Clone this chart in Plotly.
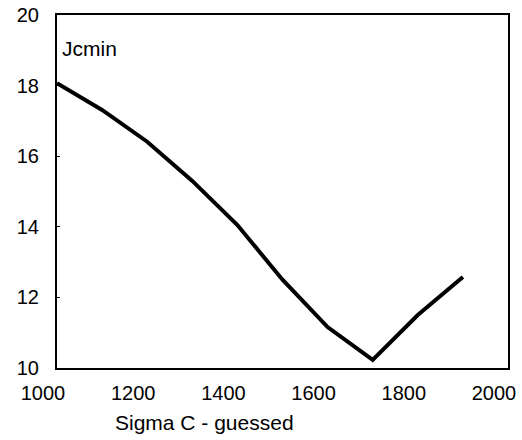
import plotly.graph_objects as go

sigma_c = [1000, 1100, 1200, 1300, 1400, 1500, 1600, 1700, 1800, 1900]
jcmin = [18.07, 17.31, 16.41, 15.3, 14.05, 12.5, 11.16, 10.23, 11.5, 12.58]
x_ticks = [1000, 1200, 1400, 1600, 1800, 2000]
y_ticks = [10, 12, 14, 16, 18, 20]

FONT = "Liberation Sans, Arial, sans-serif"

fig = go.Figure()
fig.add_trace(go.Scatter(x=sigma_c, y=jcmin, mode="lines",
                         line=dict(color="black", width=4), showlegend=False))

fig.update_layout(
    width=522, height=440,
    margin=dict(l=57, r=14, t=15, b=72, autoexpand=False),
    paper_bgcolor="white", plot_bgcolor="white",
    font=dict(family=FONT, size=20, color="black"),
    xaxis=dict(range=[1000, 2000], tickvals=x_ticks, showgrid=False, zeroline=False,
               showline=True, linecolor="black", linewidth=2, mirror=True,
               ticks="", ticklabelshift=-14, ticklabelstandoff=6, automargin=False),
    yaxis=dict(range=[10, 20], tickvals=y_ticks, showgrid=False, zeroline=False,
               showline=True, linecolor="black", linewidth=2, mirror=True,
               ticks="inside", ticklen=3, tickcolor="black", ticklabelstandoff=12,
               automargin=False),
    annotations=[
        dict(text="Jcmin", x=0.006, y=0.906, xref="paper", yref="paper",
             xanchor="left", yanchor="middle", showarrow=False,
             font=dict(family=FONT, size=21, color="black")),
        dict(text="Sigma C - guessed", x=0.328, y=-0.153, xref="paper", yref="paper",
             xanchor="center", yanchor="middle", showarrow=False,
             font=dict(family=FONT, size=21, color="black")),
    ],
)

fig.write_html("out.html", config={"displayModeBar": False},
               post_script="document.body.style.margin='0';document.body.style.overflow='hidden';")
